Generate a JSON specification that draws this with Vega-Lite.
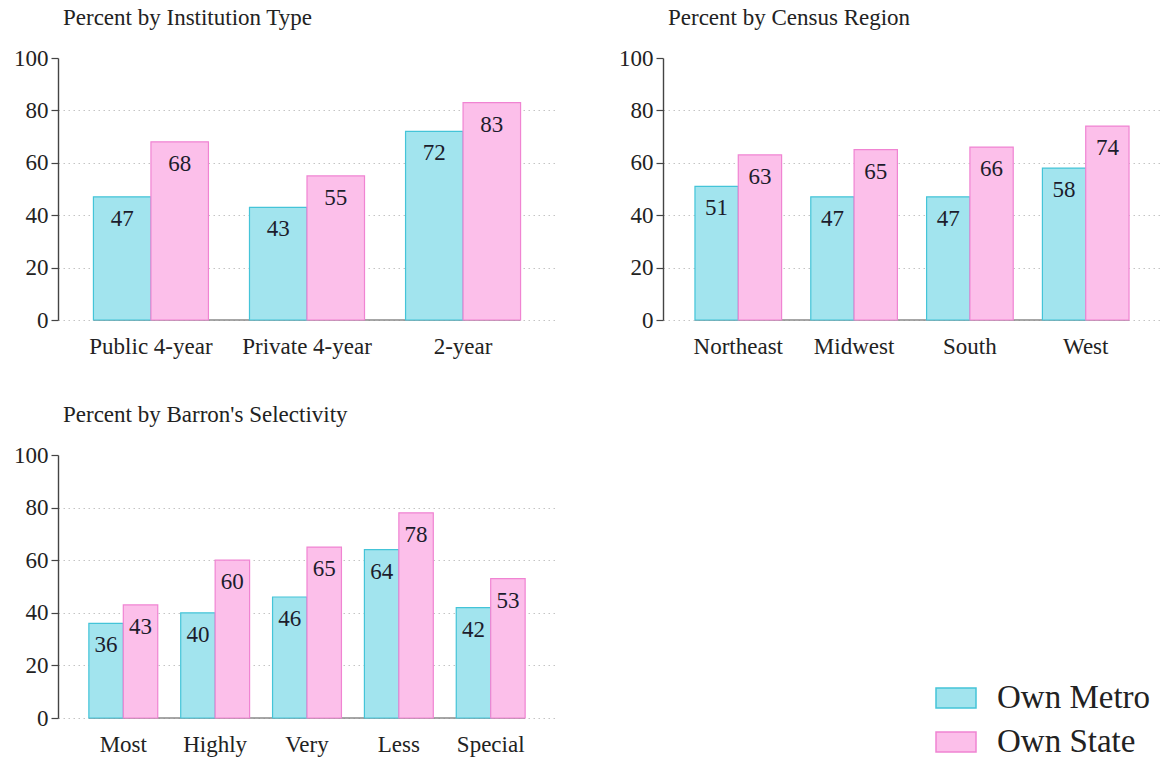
{
  "$schema": "https://vega.github.io/schema/vega-lite/v6.json",
  "background": "white",
  "padding": {"left": 13, "top": 7, "right": 0, "bottom": 0},
  "config": {
    "font": "Liberation Serif",
    "view": {"stroke": null},
    "title": {"anchor": "start", "frame": "group", "font": "Liberation Serif", "fontSize": 23, "fontWeight": "normal", "color": "#222222", "offset": 17, "dx": 5},
    "axisY": {"values": [0, 20, 40, 60, 80, 100], "title": null, "grid": true, "gridDash": [1.5, 3.5], "gridColor": "#c4c4c4", "gridOpacity": {"condition": {"test": "datum.value === 100", "value": 0}, "value": 1}, "domainColor": "#444444", "domainWidth": 1.4, "tickColor": "#444444", "tickSize": 7, "tickWidth": 1.2, "labelFont": "Liberation Serif", "labelFontSize": 23, "labelColor": "#222222", "labelPadding": 3},
    "axisX": {"title": null, "domain": false, "ticks": false, "grid": false, "labelAngle": 0, "labelFont": "Liberation Serif", "labelFontSize": 23, "labelColor": "#222222", "labelPadding": 15},
    "legend": {"orient": "none", "legendX": 877, "legendY": 619, "title": null, "symbolType": "M-1,-0.5H1V0.5H-1Z", "symbolSize": 1600, "symbolStrokeWidth": 1.5, "labelFont": "Liberation Serif", "labelFontSize": 33, "labelColor": "#222222", "labelOffset": 20, "rowPadding": 6, "padding": 0}
  },
  "datasets": {
    "inst": [
      {"category": "Public 4-year", "series": "Own Metro", "value": 47},
      {"category": "Public 4-year", "series": "Own State", "value": 68},
      {"category": "Private 4-year", "series": "Own Metro", "value": 43},
      {"category": "Private 4-year", "series": "Own State", "value": 55},
      {"category": "2-year", "series": "Own Metro", "value": 72},
      {"category": "2-year", "series": "Own State", "value": 83}
    ],
    "inst_base": [{"x0": "Public 4-year", "x1": "2-year"}],
    "region": [
      {"category": "Northeast", "series": "Own Metro", "value": 51},
      {"category": "Northeast", "series": "Own State", "value": 63},
      {"category": "Midwest", "series": "Own Metro", "value": 47},
      {"category": "Midwest", "series": "Own State", "value": 65},
      {"category": "South", "series": "Own Metro", "value": 47},
      {"category": "South", "series": "Own State", "value": 66},
      {"category": "West", "series": "Own Metro", "value": 58},
      {"category": "West", "series": "Own State", "value": 74}
    ],
    "region_base": [{"x0": "Northeast", "x1": "West"}],
    "sel": [
      {"category": "Most", "series": "Own Metro", "value": 36},
      {"category": "Most", "series": "Own State", "value": 43},
      {"category": "Highly", "series": "Own Metro", "value": 40},
      {"category": "Highly", "series": "Own State", "value": 60},
      {"category": "Very", "series": "Own Metro", "value": 46},
      {"category": "Very", "series": "Own State", "value": 65},
      {"category": "Less", "series": "Own Metro", "value": 64},
      {"category": "Less", "series": "Own State", "value": 78},
      {"category": "Special", "series": "Own Metro", "value": 42},
      {"category": "Special", "series": "Own State", "value": 53}
    ],
    "sel_base": [{"x0": "Most", "x1": "Special"}]
  },
  "columns": 2,
  "spacing": {"row": 135, "column": 107},
  "bounds": "flush",
  "resolve": {"scale": {"xOffset": "independent"}},
  "concat": [
    {
      "title": "Percent by Institution Type",
      "width": 498, "height": 262,
      "layer": [
        {"data": {"name": "inst_base"}, "mark": {"type": "rule", "color": "#8a8a8a", "strokeWidth": 1.3},
         "encoding": {"x": {"field": "x0", "type": "nominal", "bandPosition": 0, "scale": {"domain": ["Public 4-year", "Private 4-year", "2-year"], "paddingInner": 0.263, "paddingOuter": 0.227}}, "x2": {"field": "x1", "bandPosition": 1}, "y": {"datum": 0, "type": "quantitative"}}},
        {"data": {"name": "inst"}, "mark": {"type": "bar", "strokeWidth": 1.2},
         "encoding": {
           "x": {"field": "category", "type": "nominal"},
           "xOffset": {"field": "series", "type": "nominal", "scale": {"domain": ["Own Metro", "Own State"]}},
           "y": {"field": "value", "type": "quantitative", "scale": {"domain": [0, 100]}},
           "fill": {"field": "series", "type": "nominal", "scale": {"domain": ["Own Metro", "Own State"], "range": ["#a2e4ee", "#fcbfea"]}},
           "stroke": {"field": "series", "type": "nominal", "scale": {"domain": ["Own Metro", "Own State"], "range": ["#44c4d8", "#f084d2"]}}
         }},
        {"data": {"name": "inst"}, "mark": {"type": "text", "baseline": "middle", "dy": 22, "fontSize": 23, "font": "Liberation Serif", "color": "#1c1c2c"},
         "encoding": {
           "x": {"field": "category", "type": "nominal"},
           "xOffset": {"field": "series", "type": "nominal"},
           "y": {"field": "value", "type": "quantitative"},
           "text": {"field": "value", "type": "quantitative"}
         }}
      ]
    },
    {
      "title": "Percent by Census Region",
      "width": 498, "height": 262,
      "layer": [
        {"data": {"name": "region_base"}, "mark": {"type": "rule", "color": "#8a8a8a", "strokeWidth": 1.3},
         "encoding": {"x": {"field": "x0", "type": "nominal", "bandPosition": 0, "scale": {"domain": ["Northeast", "Midwest", "South", "West"], "paddingInner": 0.252, "paddingOuter": 0.276}}, "x2": {"field": "x1", "bandPosition": 1}, "y": {"datum": 0, "type": "quantitative"}}},
        {"data": {"name": "region"}, "mark": {"type": "bar", "strokeWidth": 1.2},
         "encoding": {
           "x": {"field": "category", "type": "nominal"},
           "xOffset": {"field": "series", "type": "nominal", "scale": {"domain": ["Own Metro", "Own State"]}},
           "y": {"field": "value", "type": "quantitative", "scale": {"domain": [0, 100]}},
           "fill": {"field": "series", "type": "nominal", "scale": {"domain": ["Own Metro", "Own State"], "range": ["#a2e4ee", "#fcbfea"]}},
           "stroke": {"field": "series", "type": "nominal", "scale": {"domain": ["Own Metro", "Own State"], "range": ["#44c4d8", "#f084d2"]}}
         }},
        {"data": {"name": "region"}, "mark": {"type": "text", "baseline": "middle", "dy": 22, "fontSize": 23, "font": "Liberation Serif", "color": "#1c1c2c"},
         "encoding": {
           "x": {"field": "category", "type": "nominal"},
           "xOffset": {"field": "series", "type": "nominal"},
           "y": {"field": "value", "type": "quantitative"},
           "text": {"field": "value", "type": "quantitative"}
         }}
      ]
    },
    {
      "title": "Percent by Barron's Selectivity",
      "width": 498, "height": 263,
      "layer": [
        {"data": {"name": "sel_base"}, "mark": {"type": "rule", "color": "#8a8a8a", "strokeWidth": 1.3},
         "encoding": {"x": {"field": "x0", "type": "nominal", "bandPosition": 0, "scale": {"domain": ["Most", "Highly", "Very", "Less", "Special"], "paddingInner": 0.25, "paddingOuter": 0.336}}, "x2": {"field": "x1", "bandPosition": 1}, "y": {"datum": 0, "type": "quantitative"}}},
        {"data": {"name": "sel"}, "mark": {"type": "bar", "strokeWidth": 1.2},
         "encoding": {
           "x": {"field": "category", "type": "nominal"},
           "xOffset": {"field": "series", "type": "nominal", "scale": {"domain": ["Own Metro", "Own State"]}},
           "y": {"field": "value", "type": "quantitative", "scale": {"domain": [0, 100]}},
           "fill": {"field": "series", "type": "nominal", "scale": {"domain": ["Own Metro", "Own State"], "range": ["#a2e4ee", "#fcbfea"]}},
           "stroke": {"field": "series", "type": "nominal", "scale": {"domain": ["Own Metro", "Own State"], "range": ["#44c4d8", "#f084d2"]}}
         }},
        {"data": {"name": "sel"}, "mark": {"type": "text", "baseline": "middle", "dy": 22, "fontSize": 23, "font": "Liberation Serif", "color": "#1c1c2c"},
         "encoding": {
           "x": {"field": "category", "type": "nominal"},
           "xOffset": {"field": "series", "type": "nominal"},
           "y": {"field": "value", "type": "quantitative"},
           "text": {"field": "value", "type": "quantitative"}
         }}
      ]
    }
  ]
}
